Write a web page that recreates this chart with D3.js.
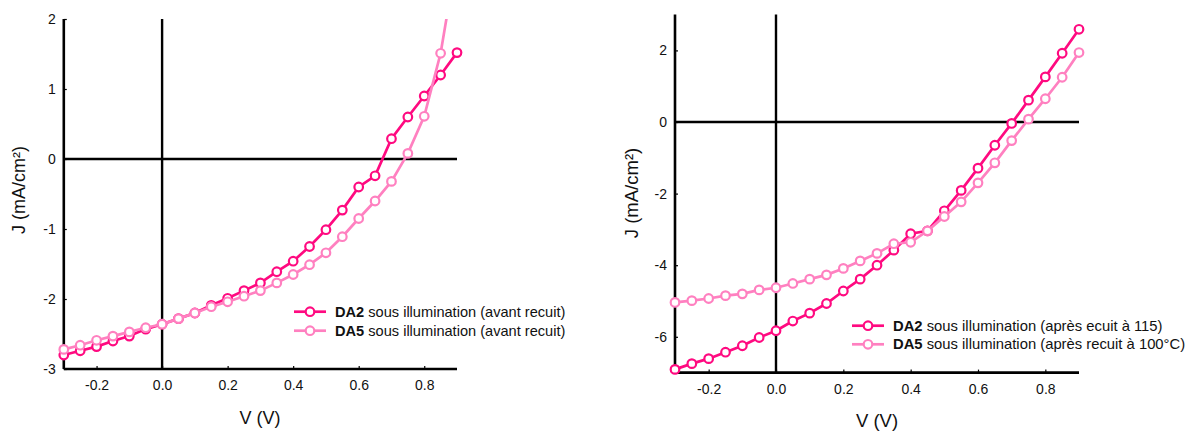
<!DOCTYPE html>
<html>
<head>
<meta charset="utf-8">
<script src="https://cdn.jsdelivr.net/npm/d3@7/dist/d3.min.js"></script>
<style>
  html, body { margin: 0; padding: 0; background: #fff; }
  svg { display: block; }
  text { font-family: "Liberation Sans", Arial, sans-serif; fill: #111; }
</style>
</head>
<body>
<svg id="chart" width="1188" height="432"></svg>
<script>
// ---- Data ----
const voltages = [-0.3, -0.25, -0.2, -0.15, -0.1, -0.05, 0, 0.05, 0.1, 0.15, 0.2, 0.25, 0.3,
                  0.35, 0.4, 0.45, 0.5, 0.55, 0.6, 0.65, 0.7, 0.75, 0.8, 0.85, 0.9];

const leftDA2 = [-2.80, -2.74, -2.68, -2.60, -2.53, -2.43, -2.36, -2.28, -2.20, -2.09, -1.99, -1.88, -1.77,
                 -1.61, -1.46, -1.25, -1.01, -0.73, -0.40, -0.24, 0.29, 0.60, 0.90, 1.20, 1.52];
const leftDA5 = [-2.72, -2.66, -2.59, -2.53, -2.47, -2.41, -2.36, -2.28, -2.20, -2.11, -2.04, -1.96, -1.88,
                 -1.77, -1.65, -1.51, -1.34, -1.11, -0.85, -0.60, -0.32, 0.08, 0.61, 1.51, 2.90];

const rightDA2 = [-6.91, -6.75, -6.61, -6.43, -6.25, -6.02, -5.83, -5.56, -5.34, -5.07, -4.72, -4.39, -4.00,
                  -3.58, -3.12, -3.04, -2.48, -1.91, -1.29, -0.65, -0.04, 0.61, 1.26, 1.92, 2.59];
const rightDA5 = [-5.04, -4.99, -4.93, -4.85, -4.80, -4.69, -4.63, -4.51, -4.39, -4.27, -4.09, -3.88, -3.67,
                  -3.40, -3.36, -3.04, -2.64, -2.23, -1.70, -1.14, -0.52, 0.08, 0.65, 1.25, 1.94];

const xTicks = [-0.2, 0.0, 0.2, 0.4, 0.6, 0.8];
const leftYTicks = [-3, -2, -1, 0, 1, 2];
const rightYTicks = [-6, -4, -2, 0, 2];

const leftLegend = ["sous illumination (avant recuit)", "sous illumination (avant recuit)"];
const rightLegend = ["sous illumination (après ecuit à 115)", "sous illumination (après recuit à 100°C)"];
const seriesNames = ["DA2", "DA5"];
const seriesColors = ["#ff0a80", "#ff80c0"];

// ---- Drawing ----
const svg = d3.select("#chart");
const hy = s => s.replace("\u2212", "-");

function panel(cfg) {
  const x = d3.scaleLinear().domain([-0.3, 0.9]).range([cfg.x0, cfg.x1]);
  const y = d3.scaleLinear().domain(cfg.yDomain).range([cfg.y0, cfg.y1]);
  const g = svg.append("g");

  const clipId = "clip" + cfg.id;
  svg.append("defs").append("clipPath").attr("id", clipId)
    .append("rect").attr("x", cfg.x0 - 10).attr("y", cfg.y1)
    .attr("width", cfg.x1 - cfg.x0 + 20).attr("height", cfg.y0 - cfg.y1 + 10);

  // zero lines
  g.append("line").attr("x1", x(-0.3)).attr("x2", x(0.9)).attr("y1", y(0)).attr("y2", y(0))
    .attr("stroke", "#000").attr("stroke-width", 2.4);
  g.append("line").attr("x1", x(0)).attr("x2", x(0)).attr("y1", cfg.y1).attr("y2", cfg.y0)
    .attr("stroke", "#000").attr("stroke-width", 2.4);

  // axes
  const xAxis = g.append("g").attr("transform", `translate(0,${cfg.y0})`)
    .call(d3.axisBottom(x).tickValues(xTicks).tickFormat(d => hy(d3.format(".1f")(d))).tickSize(-3).tickPadding(10));
  const yAxis = g.append("g").attr("transform", `translate(${cfg.x0},0)`)
    .call(d3.axisLeft(y).tickValues(cfg.yTicks).tickFormat(d => hy(d3.format("d")(d))).tickSize(-3).tickPadding(8));
  [xAxis, yAxis].forEach(a => {
    a.select(".domain").attr("stroke", "#000").attr("stroke-width", 2.6);
    a.selectAll(".tick line").attr("stroke", "#000").attr("stroke-width", 1.2);
    a.selectAll(".tick text").attr("font-size", cfg.tickFont).attr("fill", "#111")
      .attr("font-family", "Liberation Sans, Arial, sans-serif");
  });
  xAxis.selectAll(".tick text").attr("dy", "0.71em").attr("y", 11);
  xAxis.select(".domain").attr("d", `M${cfg.x0},0H${cfg.x1}`);
  yAxis.select(".domain").attr("d", `M0,${cfg.y0}V${cfg.y1}`);

  // axis titles
  g.append("text").attr("x", (cfg.titleX)).attr("y", cfg.titleY)
    .attr("text-anchor", "middle").attr("font-size", cfg.titleFont).text("V (V)");
  g.append("text").attr("transform", `translate(${cfg.jX},${cfg.jY}) rotate(-90)`)
    .attr("text-anchor", "middle").attr("font-size", cfg.titleFont).text("J (mA/cm²)");

  // series
  const line = d3.line().x(d => x(d[0])).y(d => y(d[1]));
  cfg.series.forEach((vals, i) => {
    const pts = voltages.map((v, k) => [v, vals[k]]);
    const sg = g.append("g").attr("clip-path", `url(#${clipId})`);
    sg.append("path").datum(pts).attr("d", line).attr("fill", "none")
      .attr("stroke", seriesColors[i]).attr("stroke-width", 2.7);
    sg.selectAll("circle").data(pts.filter(p => p[1] <= cfg.yDomain[1])).enter().append("circle")
      .attr("cx", d => x(d[0])).attr("cy", d => y(d[1])).attr("r", 4.3)
      .attr("fill", "#fff").attr("stroke", seriesColors[i]).attr("stroke-width", 2.2);
  });

  // legend
  cfg.legend.forEach((txt, i) => {
    const ly = cfg.legY + i * cfg.legGap;
    const lg = g.append("g");
    lg.append("line").attr("x1", cfg.legX).attr("x2", cfg.legX + 32).attr("y1", ly).attr("y2", ly)
      .attr("stroke", seriesColors[i]).attr("stroke-width", 2.7);
    lg.append("circle").attr("cx", cfg.legX + 16).attr("cy", ly).attr("r", 4.3)
      .attr("fill", "#fff").attr("stroke", seriesColors[i]).attr("stroke-width", 2.2);
    const t = lg.append("text").attr("x", cfg.legX + 41).attr("y", ly).attr("dy", "0.35em")
      .attr("font-size", cfg.legFont);
    t.append("tspan").attr("font-weight", "bold").text(seriesNames[i]);
    t.append("tspan").text(" " + txt);
  });
}

panel({
  id: "L", x0: 63.8, x1: 457, y0: 369, y1: 19, yDomain: [-3, 2], yTicks: leftYTicks,
  tickFont: 14, titleFont: 18, titleX: 260, titleY: 424, jX: 25, jY: 190,
  series: [leftDA2, leftDA5], legend: leftLegend, legX: 294, legY: 311.7, legGap: 19, legFont: 14.6
});
panel({
  id: "R", x0: 675, x1: 1079, y0: 372.6, y1: 14.6, yDomain: [-7, 3], yTicks: rightYTicks,
  tickFont: 14, titleFont: 18.5, titleX: 877, titleY: 427, jX: 638, jY: 193,
  series: [rightDA2, rightDA5], legend: rightLegend, legX: 852, legY: 325.7, legGap: 18.6, legFont: 14.8
});
</script>
</body>
</html>
